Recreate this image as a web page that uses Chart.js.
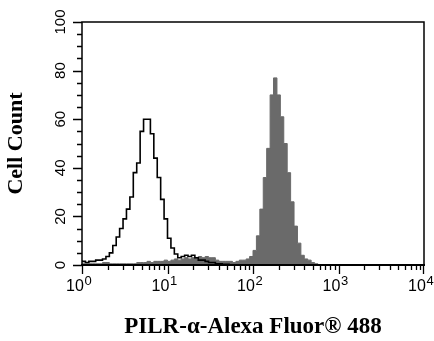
<!DOCTYPE html>
<html>
<head>
<meta charset="utf-8">
<script src="https://cdn.jsdelivr.net/npm/chart.js@4/dist/chart.umd.min.js"></script>
<style>
html,body{margin:0;padding:0;background:#fff;}
#wrap{width:434px;height:341px;position:relative;}
</style>
</head>
<body>
<div id="wrap"><canvas id="c" width="434" height="341"></canvas></div>
<script>
// Histogram channels: 25 bins per decade, from 10^0 to 10^4
const binsPerDecade = 25;
const decades = 4;
// Isotype control (black outline), counts per bin
const isotypeCounts = [
  2, 1.5, 1, 1.5, 1.5, 2, 2, 2.5, 3.5, 5,
  8, 11.5, 15, 19, 23, 28, 38, 42, 55, 60,
  60, 54, 44, 36, 27, 19, 11, 7, 4.5, 3,
  3.5, 4, 3.5, 4, 3, 2, 2, 1.5, 1, 1,
  0.5, 0.5, 0.3, 0.3, 0, 0, 0, 0, 0, 0,
  0, 0, 0, 0, 0, 0, 0, 0, 0, 0,
  0, 0, 0, 0, 0, 0, 0, 0, 0, 0,
  0, 0, 0, 0, 0, 0, 0, 0, 0, 0,
  0, 0, 0, 0, 0, 0, 0, 0, 0, 0,
  0, 0, 0, 0, 0, 0, 0, 0, 0, 0
];
// PILR-alpha stained cells (filled grey), counts per bin
const pilrCounts = [
  0.5, 0.5, 0.5, 0.5, 0.5, 0.5, 0.5, 1, 1, 0.5,
  0.5, 0.5, 0.5, 0.5, 0.5, 0.5, 0.5, 1, 1, 1,
  1.5, 1, 1.5, 1.5, 1.5, 2, 1.5, 2, 2.5, 2,
  2.5, 3, 2.5, 3, 3, 3.5, 3, 3.5, 3, 3,
  2, 1.5, 1.5, 1.5, 1.5, 1, 1.5, 2, 2, 2.5,
  3.5, 6, 12, 23, 36, 48, 70, 77, 70, 61,
  50, 38, 26, 16, 9, 4, 2.5, 2, 1, 0.5,
  0, 0, 0, 0, 0, 0, 0, 0, 0, 0,
  0, 0, 0, 0, 0, 0, 0, 0, 0, 0,
  0, 0, 0, 0, 0, 0, 0, 0, 0, 0
];
const xTickValues = [1, 10, 100, 1000, 10000];
const xTickBase = '10';
const xTickExponents = ['0', '1', '2', '3', '4'];
const yMin = 0, yMax = 100, yStep = 20;
const xTitle = 'PILR-\u03B1-Alexa Fluor\u00AE 488';
const yTitle = 'Cell Count';

function binEdge(i){ return Math.pow(10, i / binsPerDecade); }
function toSteps(counts){
  const pts = counts.map((v, i) => ({x: binEdge(i), y: v}));
  pts.push({x: binEdge(counts.length), y: 0});
  return pts;
}

const LABEL_OFFSET = -7;

const frameAndTicks = {
  id: 'frameAndTicks',
  afterDatasetsDraw(chart){
    const {ctx, chartArea: a, scales: {x, y}} = chart;
    ctx.save();
    ctx.strokeStyle = '#000';
    ctx.lineWidth = 1.3;
    ctx.beginPath();
    for (let d = 0; d < decades; d++) {
      for (let m = 1; m <= 9; m++) {
        const px = Math.round(x.getPixelForValue(m * Math.pow(10, d))) + 0.5;
        const len = m === 1 ? 9 : 5;
        ctx.moveTo(px, a.bottom); ctx.lineTo(px, a.bottom + len);
      }
    }
    const pe = Math.round(x.getPixelForValue(10000)) - 0.5;
    ctx.moveTo(pe, a.bottom); ctx.lineTo(pe, a.bottom + 9);
    for (let v = yMin; v <= yMax; v += 5) {
      const py = Math.round(y.getPixelForValue(v)) + 0.5;
      const len = v % yStep === 0 ? 9 : 5;
      ctx.moveTo(a.left, py); ctx.lineTo(a.left - len, py);
    }
    ctx.stroke();
    ctx.lineWidth = 1.5;
    ctx.strokeRect(a.left, a.top, a.right - a.left, a.bottom - a.top);
    ctx.lineWidth = 2.2;
    ctx.beginPath();
    ctx.moveTo(a.left - 1, a.bottom); ctx.lineTo(a.right + 1, a.bottom);
    ctx.stroke();
    // exponents of x tick labels
    ctx.fillStyle = '#000';
    ctx.font = '16px "Liberation Sans", Arial, sans-serif';
    const baseW = ctx.measureText(xTickBase).width;
    ctx.font = '13px "Liberation Sans", Arial, sans-serif';
    ctx.textAlign = 'left';
    ctx.textBaseline = 'alphabetic';
    xTickValues.forEach((v, i) => {
      const px = x.getPixelForValue(v) + LABEL_OFFSET + baseW / 2 + 0.5;
      ctx.fillText(xTickExponents[i], px, a.bottom + 20);
    });
    ctx.restore();
  }
};

new Chart(document.getElementById('c'), {
  type: 'line',
  data: {
    datasets: [
      {
        label: 'Isotype',
        data: toSteps(isotypeCounts),
        stepped: 'after',
        borderColor: '#000',
        borderWidth: 1.6,
        pointRadius: 0,
        fill: false,
        order: 0
      },
      {
        label: 'PILR-alpha',
        data: toSteps(pilrCounts),
        stepped: 'after',
        borderColor: '#6a6a6a',
        backgroundColor: '#6a6a6a',
        borderWidth: 1,
        pointRadius: 0,
        fill: 'origin',
        order: 1
      }
    ]
  },
  options: {
    responsive: false,
    animation: false,
    devicePixelRatio: 1,
    layout: { padding: { left: 0, top: 22, right: 0, bottom: 0 } },
    plugins: { legend: { display: false }, tooltip: { enabled: false } },
    scales: {
      x: {
        type: 'logarithmic',
        min: 1, max: 10000,
        afterBuildTicks(scale){ scale.ticks = xTickValues.map(v => ({value: v})); },
        afterFit(scale){ scale.height = 76; scale.paddingRight = 10; scale.paddingLeft = 0; },
        grid: { display: false, drawTicks: false },
        border: { display: false },
        ticks: {
          autoSkip: false,
          maxRotation: 0, minRotation: 0,
          padding: 12,
          labelOffset: LABEL_OFFSET,
          color: '#000',
          font: { family: 'Liberation Sans, Arial, sans-serif', size: 16 },
          callback(v){ return xTickValues.indexOf(v) >= 0 ? xTickBase : ''; }
        },
        title: {
          display: true, text: xTitle, color: '#000',
          font: { family: 'Liberation Serif, Times New Roman, serif', size: 23, weight: 'bold' },
          padding: { top: 0, bottom: 0 }
        }
      },
      y: {
        min: yMin, max: yMax,
        afterFit(scale){ scale.width = 82; },
        grid: { display: false, drawTicks: false },
        border: { display: false },
        ticks: {
          stepSize: yStep,
          minRotation: 90, maxRotation: 90,
          crossAlign: 'center',
          padding: 9,
          color: '#000',
          font: { family: 'Liberation Sans, Arial, sans-serif', size: 15 }
        },
        title: {
          display: true, text: yTitle, color: '#000',
          font: { family: 'Liberation Serif, Times New Roman, serif', size: 22, weight: 'bold' },
          padding: { top: 3, bottom: 0 }
        }
      }
    }
  },
  plugins: [frameAndTicks]
});
</script>
</body>
</html>
